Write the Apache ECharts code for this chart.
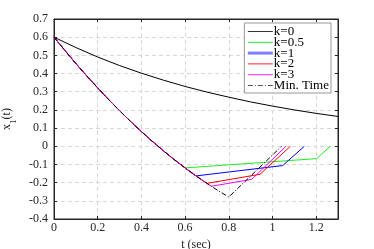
<!DOCTYPE html>
<html><head><meta charset="utf-8">
<script src="https://cdn.jsdelivr.net/npm/echarts@6/dist/echarts.min.js"></script>
<style>html,body{margin:0;padding:0;background:#fff}#c{width:374px;height:249px}</style>
</head><body><div id="c"></div>
<script>
// Shared descending trajectory
var curveT = [0, 0.05, 0.1, 0.15, 0.2, 0.25, 0.3, 0.35, 0.4, 0.45, 0.5, 0.55, 0.6, 0.65, 0.7, 0.72, 0.75, 0.8];
var curveX = [0.600, 0.527, 0.455, 0.387, 0.321, 0.257, 0.196, 0.137, 0.081, 0.027, -0.024, -0.073, -0.119, -0.163, -0.204, -0.220, -0.243, -0.279];
// k=0 trajectory
var k0T = [0, 0.1, 0.2, 0.3, 0.4, 0.5, 0.6, 0.7, 0.8, 0.9, 1.0, 1.1, 1.2, 1.3];
var k0X = [0.600, 0.543, 0.491, 0.444, 0.402, 0.364, 0.329, 0.298, 0.270, 0.244, 0.221, 0.200, 0.181, 0.164];
// switching time on shared trajectory and tail points
var k05Switch = 0.6,  k05TailT = [1.202, 1.265], k05TailX = [-0.068, 0];
var k1Switch = 0.65,  k1TailT = [1.047, 1.146],  k1TailX = [-0.106, 0];
var k2Switch = 0.7,   k2TailT = [0.943, 1.082],  k2TailX = [-0.154, 0];
var k3Switch = 0.72,  k3TailT = [0.905, 1.062],  k3TailX = [-0.182, 0];
var mtSwitch = 0.8,   mtTailT = [1.042],         mtTailX = [0];
var seriesNames = ['k=0', 'k=0.5', 'k=1', 'k=2', 'k=3', 'Min. Time'];
var xTicks = [0, 0.2, 0.4, 0.6, 0.8, 1, 1.2];
var yTicks = [-0.4, -0.3, -0.2, -0.1, 0, 0.1, 0.2, 0.3, 0.4, 0.5, 0.6, 0.7];

function build(sw, tt, tx) {
  var d = [];
  for (var i = 0; i < curveT.length; i++) if (curveT[i] <= sw + 1e-9) d.push([curveT[i], curveX[i]]);
  for (var j = 0; j < tt.length; j++) d.push([tt[j], tx[j]]);
  return d;
}
function zip(a, b) { return a.map(function (v, i) { return [v, b[i]]; }); }

var font = 'Liberation Serif';
var txt = '#262626';
var colors = ['#000000', '#22ee22', '#0000ff', '#ff0000', '#ff00ff', '#000000'];
var legendColors = ['#333333', '#22ee22', '#8080ff', '#ff2020', '#ff20ff', '#555555'];
var legendWidths = [1, 1, 3, 1, 1, 1];
function mk(i, data, type) {
  return { name: seriesNames[i], type: 'line', data: data, symbol: 'none', silent: true, animation: false,
    lineStyle: { color: colors[i], width: 1, type: type || 'solid' }, itemStyle: { color: colors[i] } };
}
var chart = echarts.init(document.getElementById('c'));
chart.setOption({
  animation: false,
  textStyle: { fontFamily: font },
  grid: { left: 54, right: 36, top: 19, bottom: 30, outerBoundsMode: 'none', containLabel: false,
    show: true, borderColor: txt, borderWidth: 1, backgroundColor: '#fff' },
  legend: {
    right: 43, top: 23, orient: 'vertical', itemWidth: 25, itemHeight: 9, itemGap: -2.2,
    backgroundColor: '#fff', borderColor: '#999', borderWidth: 1, padding: [2, 2, 1, 2],
    itemStyle: { opacity: 0, borderWidth: 0 },
    textStyle: { fontFamily: font, fontSize: 13, lineHeight: 11, color: '#000', padding: [0, 0, 0, -4] },
    data: seriesNames.map(function (n, i) {
      return { name: n, lineStyle: { width: legendWidths[i], color: legendColors[i], opacity: 1, type: i === 5 ? [5, 2, 1, 2] : 'solid' } };
    })
  },
  xAxis: [{
    type: 'value', min: 0, max: 1.3, interval: 0.2,
    name: 't (sec)', nameLocation: 'middle', nameGap: 16,
    nameTextStyle: { fontFamily: font, fontSize: 12, color: txt },
    axisLine: { show: true, onZero: false, lineStyle: { color: txt } },
    axisTick: { inside: true, length: 3, lineStyle: { color: txt } },
    axisLabel: { fontFamily: font, fontSize: 12, color: txt, margin: 3, showMaxLabel: false,
      formatter: function (v) { return xTicks.indexOf(+v.toFixed(1)) >= 0 ? String(+v.toFixed(1)) : ''; } },
    splitLine: { show: true, lineStyle: { color: '#d8d8d8', type: [4, 3] } }
  }, {
    type: 'value', min: 0, max: 1.3, interval: 0.2, position: 'top',
    axisLine: { show: true, onZero: false, lineStyle: { color: txt } },
    axisTick: { inside: true, length: 3, lineStyle: { color: txt } },
    axisLabel: { show: false }, splitLine: { show: false }
  }],
  yAxis: [{
    type: 'value', min: -0.4, max: 0.7, interval: 0.1,
    name: '{a|x}{b|1}{a|(t)}', nameLocation: 'middle', nameGap: 32,
    nameTextStyle: { fontFamily: font, fontSize: 12, color: txt,
      rich: { a: { fontFamily: font, fontSize: 12, color: txt, verticalAlign: 'top', lineHeight: 17 },
              b: { fontFamily: font, fontSize: 9, color: txt, verticalAlign: 'bottom', lineHeight: 17 } } },
    axisLine: { show: true, onZero: false, lineStyle: { color: txt } },
    axisTick: { inside: true, length: 3, lineStyle: { color: txt } },
    axisLabel: { fontFamily: font, fontSize: 12, color: txt, margin: 6,
      formatter: function (v) { var r = Math.round(v * 10) / 10; return r === 0 ? '0' : String(r); } },
    splitLine: { show: true, lineStyle: { color: '#d8d8d8', type: [4, 3] } }
  }, {
    type: 'value', min: -0.4, max: 0.7, interval: 0.1, position: 'right',
    axisLine: { show: true, onZero: false, lineStyle: { color: txt } },
    axisTick: { inside: true, length: 3, lineStyle: { color: txt } },
    axisLabel: { show: false }, splitLine: { show: false }
  }],
  series: [
    mk(0, zip(k0T, k0X)),
    mk(1, build(k05Switch, k05TailT, k05TailX)),
    mk(2, build(k1Switch, k1TailT, k1TailX)),
    mk(3, build(k2Switch, k2TailT, k2TailX)),
    mk(4, build(k3Switch, k3TailT, k3TailX)),
    mk(5, build(mtSwitch, mtTailT, mtTailX), [5, 2, 1, 2])
  ]
});
</script></body></html>
